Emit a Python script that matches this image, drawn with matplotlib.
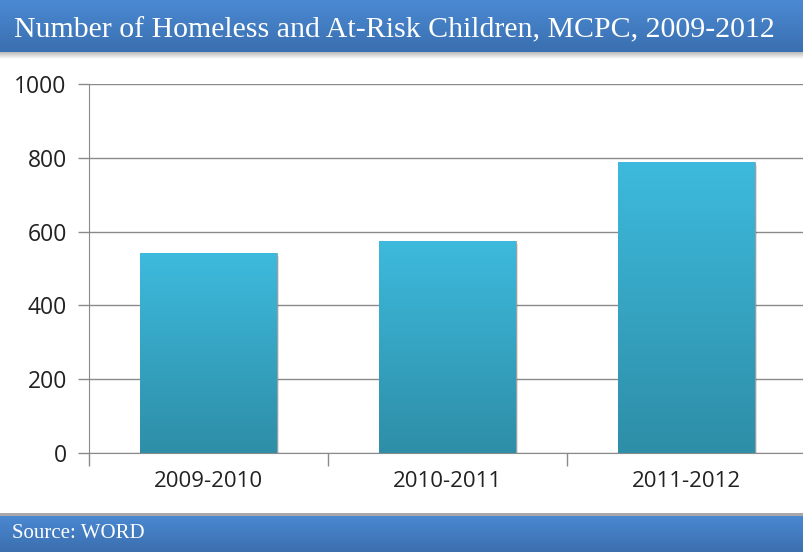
import numpy as np
import matplotlib
matplotlib.use("Agg")
import matplotlib.pyplot as plt
from matplotlib.colors import LinearSegmentedColormap

# data
categories = ["2009-2010", "2010-2011", "2011-2012"]
children = [541, 575, 789]
y_ticks = [0, 200, 400, 600, 800, 1000]

title = "Number of Homeless and At-Risk Children, MCPC, 2009-2012"
source = "Source: WORD"

W, H = 804, 552
fig = plt.figure(figsize=(W / 100, H / 100), dpi=100)
fig.patch.set_facecolor("white")

def band(y0, y1, top_col, bot_col):
    bax = fig.add_axes([0, 1 - y1 / H, 1, (y1 - y0) / H])
    cm = LinearSegmentedColormap.from_list("b", [bot_col, top_col])
    grad = np.linspace(0, 1, 64).reshape(-1, 1)
    bax.imshow(grad, aspect="auto", cmap=cm, origin="lower", extent=[0, 1, 0, 1])
    bax.set_axis_off()
    return bax

# header with a soft shadow
sh = fig.add_axes([0, 1 - 59 / H, 1, 8 / H])
sh_cm = LinearSegmentedColormap.from_list("s", ["#ffffff", "#b0b0b0"])
sh.imshow(np.linspace(0, 1, 32).reshape(-1, 1), aspect="auto", cmap=sh_cm,
          origin="lower", extent=[0, 1, 0, 1])
sh.set_axis_off()
hdr = band(0, 52, "#4b8ad3", "#3a6fb0")
hdr.text(0.018, 0.42, title, color="white", fontsize=21.5, family="Liberation Serif",
         va="center", ha="left", transform=hdr.transAxes)

# footer
ftop = fig.add_axes([0, 1 - 516 / H, 1, 3 / H])
ftop.set_facecolor("#a8a8a8")
ftop.set_xticks([]); ftop.set_yticks([])
for s in ftop.spines.values():
    s.set_visible(False)
ftr = band(516, 552, "#4a88d2", "#3b6fae")
ftr.text(0.015, 0.5, source, color="white", fontsize=15, family="Liberation Serif",
         va="center", ha="left", transform=ftr.transAxes)

# chart area
x0, x1 = 89, 806
yb, yt = 453, 84
ax = fig.add_axes([x0 / W, 1 - yb / H, (x1 - x0) / W, (yb - yt) / H])
ax.set_facecolor("none")
x = np.arange(len(categories))
ax.set_xlim(-0.5, len(categories) - 0.5)
ax.set_ylim(0, 1000)

bar_cm = LinearSegmentedColormap.from_list("bar", ["#2e8ea7", "#3dbadd"])
grad = np.linspace(0, 1, 128).reshape(-1, 1)
bars = ax.bar(x, children, width=0.573, color="#37a6c6", edgecolor="#9a9a9a",
              linewidth=0.6, zorder=3)
for b, v in zip(bars, children):
    # shadow
    ax.bar(b.get_x() + b.get_width() / 2 + 0.008, v, width=b.get_width(), bottom=-8,
           color="#000000", alpha=0.12, linewidth=0, zorder=2)
    im = ax.imshow(grad, aspect="auto", cmap=bar_cm, origin="lower",
                   extent=[b.get_x(), b.get_x() + b.get_width(), 0, v], zorder=3.5)
    im.set_clip_path(b)

ax.set_yticks(y_ticks)
ax.set_yticklabels([str(t) for t in y_ticks], fontsize=16.5, family="Open Sans", color="#222222")
ax.set_xticks(x)
ax.set_xticklabels(categories, fontsize=16, family="Open Sans", color="#222222")
ax.tick_params(axis="x", length=0, pad=13)
ax.tick_params(axis="y", length=8, color="#8a8a8a", width=1, pad=8)
ax.set_xticks(np.arange(-0.5, len(categories)), minor=True)
ax.tick_params(axis="x", which="minor", length=9, color="#8a8a8a", width=1)
ax.grid(axis="y", color="#8a8a8a", linewidth=1, zorder=0)
ax.set_axisbelow(True)
for s in ["top", "right"]:
    ax.spines[s].set_visible(False)
ax.spines["left"].set_color("#8a8a8a")
ax.spines["bottom"].set_color("#8a8a8a")

fig.savefig("out.png", dpi=100)
